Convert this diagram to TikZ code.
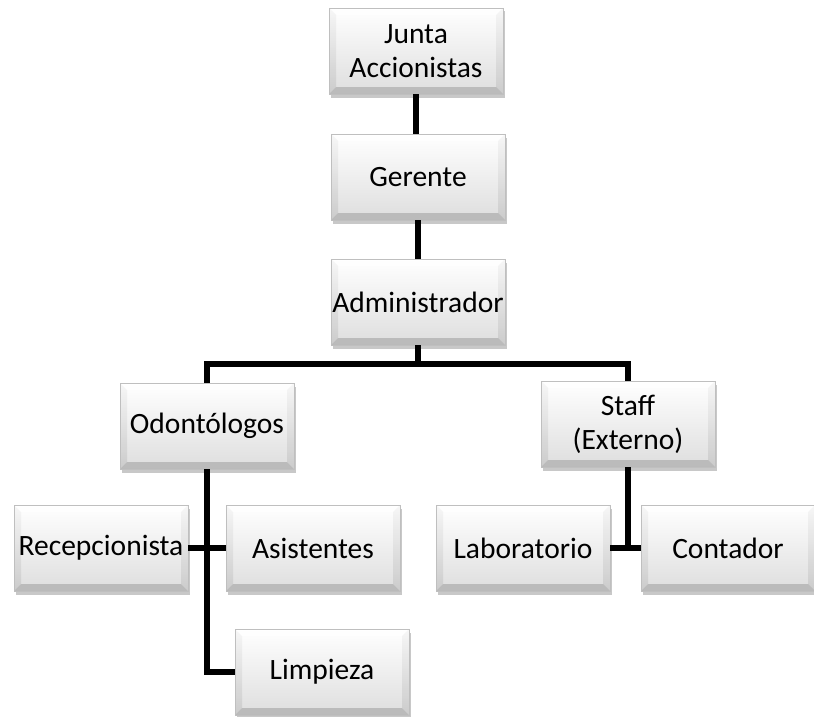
\documentclass[tikz,border=0pt]{standalone}
\usepackage{fontspec}
\setmainfont{Carlito}
\usetikzlibrary{shadows}
\begin{document}
\begin{tikzpicture}[x=1pt,y=-1pt,
  orgbox/.style={minimum width=174pt, minimum height=86pt, inner sep=0pt, align=center,
    font=\fontsize{29.5}{34}\selectfont,
    top color=white, bottom color=black!13, draw=black!25, line width=0.5pt,
    drop shadow={shadow xshift=1.5pt, shadow yshift=-3.5pt, opacity=0.3, fill=black!70},
    path picture={
      \fill[white, opacity=0.7]
        (path picture bounding box.north west) -- (path picture bounding box.north east)
        -- ([xshift=-7pt,yshift=-7pt]path picture bounding box.north east)
        -- ([xshift=7pt,yshift=-7pt]path picture bounding box.north west) -- cycle;
      \shade[top color=black!4, bottom color=black!22, opacity=0.8]
        (path picture bounding box.north west) -- (path picture bounding box.south west)
        -- ([xshift=7pt,yshift=7pt]path picture bounding box.south west)
        -- ([xshift=7pt,yshift=-7pt]path picture bounding box.north west) -- cycle;
      \shade[top color=black!4, bottom color=black!22, opacity=0.8]
        (path picture bounding box.north east) -- (path picture bounding box.south east)
        -- ([xshift=-7pt,yshift=7pt]path picture bounding box.south east)
        -- ([xshift=-7pt,yshift=-7pt]path picture bounding box.north east) -- cycle;
      \fill[black!30, opacity=0.8]
        (path picture bounding box.south west) -- (path picture bounding box.south east)
        -- ([xshift=-7pt,yshift=7pt]path picture bounding box.south east)
        -- ([xshift=7pt,yshift=7pt]path picture bounding box.south west) -- cycle;
    }},
  link/.style={line width=5.5pt, line join=miter, draw=black}]
\useasboundingbox (0,0) rectangle (814,717);
\fill[white] (0,0) rectangle (814,717);

% boxes
\node[orgbox] (junta)   at (416,51)  {Junta\\Accionistas};
\node[orgbox] (gerente) at (418,177) {Gerente};
\node[orgbox] (admin)   at (418,302) {Administrador};
\node[orgbox] (odont)   at (207,426) {Odontólogos};
\node[orgbox] (staff)   at (628,424) {Staff\\(Externo)};
\node[orgbox] (recep)   at (101,548) {Recepcionista};
\node[orgbox] (asist)   at (313,548) {Asistentes};
\node[orgbox] (lab)     at (523,548) {Laboratorio};
\node[orgbox] (cont)    at (728,548) {Contador};
\node[orgbox] (limp)    at (322,672) {Limpieza};

% connectors
\coordinate (bus) at (418,364);
\draw[link] (junta.south) -- (junta.south |- gerente.north);
\draw[link] (gerente.south) -- (gerente.south |- admin.north);
\draw[link] (admin.south) -- (admin.south |- bus);
\draw[link] (odont.north) -- (odont.north |- bus) -| (staff.north);
\draw[link] (odont.south) |- (limp.west);
\draw[link] (recep.east) -- (asist.west);
\draw[link] (staff.south) -- (staff.south |- lab.east);
\draw[link] (lab.east) -- (cont.west);
\end{tikzpicture}
\end{document}
